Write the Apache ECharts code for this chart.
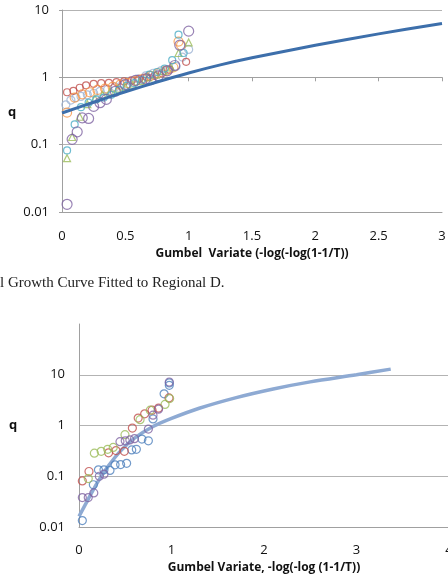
<!DOCTYPE html>
<html>
<head>
<meta charset="utf-8">
<script src="https://cdn.jsdelivr.net/npm/echarts@6/dist/echarts.min.js"></script>
<style>
  html, body { margin: 0; padding: 0; background: #fff; }
  #chart { width: 448px; height: 584px; }
</style>
</head>
<body>
<div id="chart"></div>
<script>
// --- top chart: regional growth curve + station points ---
const topXTicks = ['0', '0.5', '1', '1.5', '2', '2.5', '3']
const yTickLabels = ['0.01', '0.1', '1', '10']

const topCurveX = [0, 0.25, 0.5, 0.75, 1, 1.25, 1.5, 2, 2.5, 3]
const topCurveQ = [0.295, 0.427, 0.61, 0.851, 1.16, 1.53, 1.95, 2.99, 4.42, 6.31]

const redX = [0.04, 0.09, 0.14, 0.19, 0.25, 0.31, 0.37, 0.43, 0.49, 0.55, 0.61, 0.67, 0.73, 0.79, 0.85, 0.98]
const redQ = [0.6, 0.63, 0.7, 0.76, 0.8, 0.82, 0.83, 0.85, 0.87, 0.9, 0.95, 1.0, 1.05, 1.15, 1.3, 1.7]

const orangeX = [0.04, 0.1, 0.16, 0.22, 0.28, 0.34, 0.4, 0.46, 0.52, 0.58, 0.64, 0.7, 0.76, 0.82, 0.88, 0.92, 0.94]
const orangeQ = [0.3, 0.5, 0.56, 0.6, 0.65, 0.68, 0.72, 0.78, 0.82, 0.88, 0.95, 1.05, 1.15, 1.25, 1.4, 3.4, 3.0]

const greenX = [0.04, 0.08, 0.14, 0.2, 0.26, 0.32, 0.38, 0.44, 0.5, 0.56, 0.62, 0.68, 0.74, 0.8, 0.86, 0.92, 1.0]
const greenQ = [0.063, 0.13, 0.26, 0.4, 0.48, 0.55, 0.62, 0.68, 0.72, 0.78, 0.88, 1.0, 1.1, 1.25, 1.4, 2.3, 3.3]

const aquaX = [0.04, 0.1, 0.15, 0.21, 0.27, 0.33, 0.39, 0.45, 0.51, 0.57, 0.63, 0.69, 0.75, 0.81, 0.87, 0.92, 0.96]
const aquaQ = [0.082, 0.2, 0.36, 0.42, 0.47, 0.5, 0.55, 0.65, 0.75, 0.82, 0.92, 1.1, 1.2, 1.35, 1.8, 4.3, 2.3]

const purpleX = [0.04, 0.08, 0.12, 0.16, 0.21, 0.25, 0.3, 0.35, 0.42, 0.5, 0.58, 0.66, 0.7, 0.76, 0.83, 0.89, 0.93, 1.0]
const purpleQ = [0.013, 0.12, 0.155, 0.25, 0.245, 0.37, 0.42, 0.47, 0.62, 0.78, 0.9, 0.95, 0.92, 1.05, 1.25, 1.5, 3.0, 4.85]

const greyX = [0.03, 0.07, 0.11, 0.15, 0.2, 0.25, 0.3, 0.36, 0.42, 0.48, 0.54, 0.6, 0.66, 0.72, 0.78, 0.84, 0.9, 0.95, 1.0]
const greyQ = [0.39, 0.46, 0.5, 0.52, 0.55, 0.58, 0.62, 0.66, 0.72, 0.8, 0.88, 0.95, 1.05, 1.15, 1.25, 1.3, 1.45, 2.0, 2.6]

// --- bottom chart ---
const botXTicks = ['0', '1', '2', '3', '4']

const botCurveX = [0, 0.1, 0.2, 0.3, 0.45, 0.6, 0.8, 1.0, 1.3, 1.7, 2.1, 2.5, 3.0, 3.37]
const botCurveQ = [0.0162, 0.0355, 0.0759, 0.1445, 0.316, 0.562, 0.955, 1.38, 2.19, 3.55, 5.25, 7.24, 10.0, 12.9]

const bBlueX = [0.036, 0.155, 0.21, 0.27, 0.335, 0.39, 0.45, 0.515, 0.57, 0.62, 0.68, 0.75, 0.8, 0.92, 0.976, 0.976]
const bBlueQ = [0.0134, 0.068, 0.134, 0.134, 0.13, 0.168, 0.17, 0.18, 0.33, 0.34, 0.54, 0.5, 1.35, 4.2, 6.9, 6.2]

const bRedX = [0.036, 0.108, 0.32, 0.4, 0.49, 0.577, 0.64, 0.71, 0.79, 0.86, 0.973]
const bRedQ = [0.081, 0.124, 0.29, 0.32, 0.31, 0.89, 1.4, 1.7, 2.0, 2.2, 3.5]

const bGreenX = [0.1, 0.166, 0.24, 0.31, 0.37, 0.497, 0.66, 0.77, 0.93, 0.98]
const bGreenQ = [0.09, 0.285, 0.31, 0.34, 0.37, 0.66, 1.3, 2.0, 2.6, 3.4]

const bPurpleX = [0.036, 0.1, 0.16, 0.22, 0.27, 0.443, 0.5, 0.55, 0.6, 0.75, 0.8, 0.86, 0.976]
const bPurpleQ = [0.038, 0.038, 0.047, 0.1, 0.11, 0.48, 0.5, 0.52, 0.55, 0.85, 1.6, 2.1, 7.2]

const pairs = (xs, ys) => xs.map((x, i) => [x, ys[i]])

const gridGrey = '#b3b3b3'
const axisGrey = '#a0a0a0'
const labelFont = { color: '#111', fontSize: 13, fontFamily: 'Open Sans' }

const logLabel = v => yTickLabels[Math.round(Math.log10(v)) + 2] || ''

const hollow = (name, xs, ys, color, size, symbol, xi, yi) => ({
  name,
  type: 'scatter',
  xAxisIndex: xi,
  yAxisIndex: yi,
  symbol: symbol || 'circle',
  symbolSize: size,
  data: pairs(xs, ys),
  itemStyle: { color: 'rgba(0,0,0,0)', borderColor: color, borderWidth: 1.2 },
  z: 3
})

const chart = echarts.init(document.getElementById('chart'))

const option = {
  animation: false,
  grid: [
    { left: 62, right: 6, top: 10, height: 202, outerBoundsMode: 'none' },
    { left: 79, right: -1, top: 324, height: 203, outerBoundsMode: 'none' }
  ],
  xAxis: [
    {
      gridIndex: 0, type: 'value', min: 0, max: 3, interval: 0.5,
      axisLine: { show: true, lineStyle: { color: axisGrey } },
      axisTick: { show: false },
      splitLine: { show: false },
      axisLabel: { ...labelFont, margin: 18, formatter: v => topXTicks[Math.round(v * 2)] },
      name: 'Gumbel  Variate (-log(-log(1-1/T))',
      nameLocation: 'middle', nameGap: 36,
      nameTextStyle: { fontWeight: 'bold', fontSize: 12, color: '#111', fontFamily: 'Open Sans' }
    },
    {
      // horizontal axis crossing at q = 1, with its tick marks
      gridIndex: 0, type: 'value', min: 0, max: 3, interval: 0.5,
      position: 'top', offset: -67.3,
      axisLine: { show: true, lineStyle: { color: axisGrey } },
      axisTick: { show: true, inside: true, length: 4, lineStyle: { color: axisGrey } },
      axisLabel: { show: false },
      splitLine: { show: false }
    },
    {
      gridIndex: 1, type: 'value', min: 0, max: 4, interval: 1,
      axisLine: { show: true, lineStyle: { color: axisGrey } },
      axisTick: { show: false },
      splitLine: { show: false },
      axisLabel: { ...labelFont, margin: 17, formatter: v => botXTicks[Math.round(v)] },
      name: 'Gumbel Variate, -log(-log (1-1/T))',
      nameLocation: 'middle', nameGap: 35,
      nameTextStyle: { fontWeight: 'bold', fontSize: 12, color: '#111', fontFamily: 'Open Sans' }
    }
  ],
  yAxis: [
    {
      gridIndex: 0, type: 'log', logBase: 10, min: 0.01, max: 10,
      axisLine: { show: true, lineStyle: { color: axisGrey } },
      axisTick: { show: true, length: 3, lineStyle: { color: axisGrey } },
      splitLine: { show: true, lineStyle: { color: gridGrey } },
      axisLabel: { ...labelFont, margin: 13, formatter: logLabel }
    },
    {
      gridIndex: 1, type: 'log', logBase: 10, min: 0.01, max: 100,
      axisLine: { show: true, lineStyle: { color: axisGrey } },
      axisTick: { show: false },
      splitLine: { show: true, showMaxLine: false, lineStyle: { color: gridGrey } },
      axisLabel: { ...labelFont, margin: 14, formatter: logLabel }
    }
  ],
  graphic: [
    { type: 'text', left: 8, top: 106, style: { text: 'q', font: 'bold 13px "Open Sans"', fill: '#111' } },
    { type: 'text', left: 9, top: 419, style: { text: 'q', font: 'bold 13px "Open Sans"', fill: '#111' } },
    { type: 'text', left: 0, top: 276, style: { text: 'l Growth Curve Fitted to Regional D.', font: '15px "Liberation Serif"', fill: '#222' } }
  ],
  series: [
    hollow('s1', greyX, greyQ, '#9fb4d4', 8, 'circle', 0, 0),
    hollow('s2', redX, redQ, '#c0504d', 7, 'circle', 0, 0),
    hollow('s3', orangeX, orangeQ, '#f79646', 9, 'circle', 0, 0),
    hollow('s4', greenX, greenQ, '#9bbb59', 7, 'triangle', 0, 0),
    hollow('s5', aquaX, aquaQ, '#4bacc6', 7, 'circle', 0, 0),
    hollow('s6', purpleX, purpleQ, '#8064a2', 10, 'circle', 0, 0),
    {
      name: 'growth curve', type: 'line', xAxisIndex: 0, yAxisIndex: 0,
      data: pairs(topCurveX, topCurveQ), smooth: 0.3, symbol: 'none',
      lineStyle: { color: '#3d6fab', width: 3 }, z: 4
    },
    {
      name: 'curve', type: 'line', xAxisIndex: 2, yAxisIndex: 1,
      data: pairs(botCurveX, botCurveQ), smooth: 0.3, symbol: 'none',
      lineStyle: { color: '#8eaad3', width: 3.5 }, z: 2
    },
    hollow('b1', bBlueX, bBlueQ, '#4f81bd', 8, 'circle', 2, 1),
    hollow('b2', bRedX, bRedQ, '#c0504d', 8, 'circle', 2, 1),
    hollow('b3', bGreenX, bGreenQ, '#9bbb59', 8, 'circle', 2, 1),
    hollow('b4', bPurpleX, bPurpleQ, '#8064a2', 8, 'circle', 2, 1)
  ]
}

chart.setOption(option)
</script>
</body>
</html>
